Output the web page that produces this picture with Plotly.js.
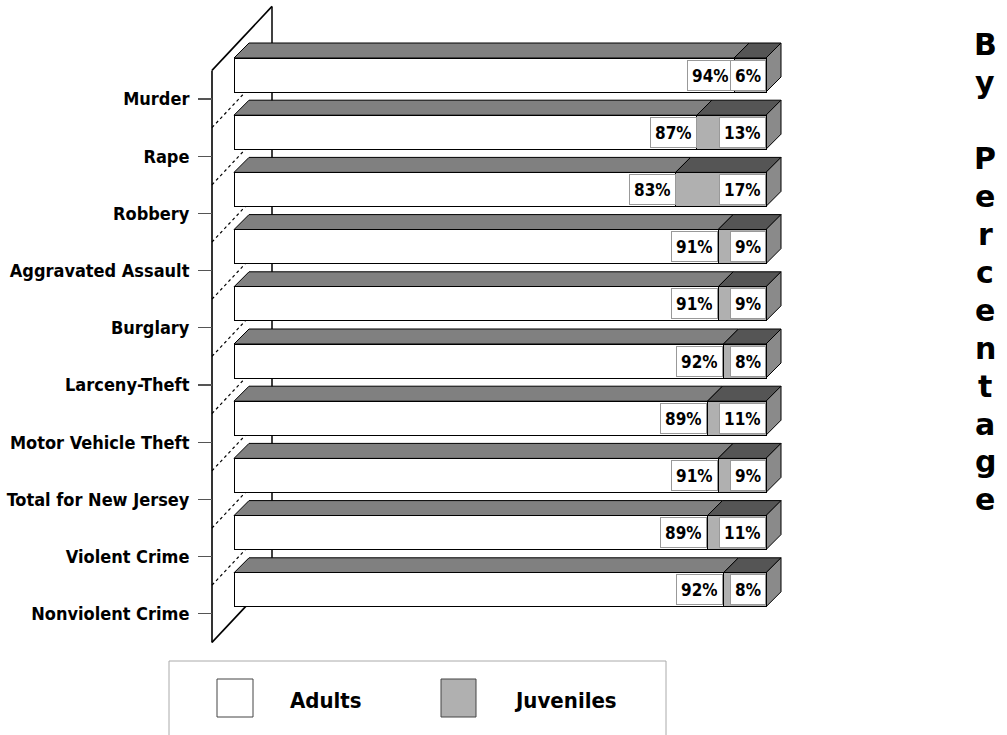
<!DOCTYPE html>
<html><head><meta charset="utf-8">
<script src="https://cdn.plot.ly/plotly-3.0.1.min.js"></script>
<style>html,body{margin:0;padding:0;background:#fff}#chart{width:1007px;height:735px}</style>
</head><body><div id="chart"></div>
<script>
// ---- data ----
const categories = ["Murder","Rape","Robbery","Aggravated Assault","Burglary","Larceny-Theft","Motor Vehicle Theft","Total for New Jersey","Violent Crime","Nonviolent Crime"];
const adults = [94,87,83,91,91,92,89,91,89,92];
const juveniles = [6,13,17,9,9,8,11,9,11,8];
const seriesNames = ["Adults","Juveniles"];
const sideTitle = "By Percentage";

// ---- geometry (pixels) ----
const W=1007, H=735;
const X0=234, X1=766;          // pixel of 0% and 100%
const ROW0=99, ROWH=57.2;      // pixel of first category tick, spacing
const ux=(X1-X0)/100;
const n=categories.length;
const idx=categories.map((_,i)=>i);
const barShift=24/ROWH, barW=34/ROWH;
const dX=15/ux, dY=15/ROWH;               // bar depth
const wallX=-22/ux, wallDX=60/ux, wallDY=64/ROWH;
const yb=idx.map(i=>i-barShift);
const FN="'DejaVu Sans Condensed','Liberation Sans Narrow',sans-serif";
const C_TOP='#808080', C_TOPJ='#555555', C_SIDE='#8a8a8a', C_JUV='#b0b0b0';

const shapes=[];
const L=(x0,y0,x1,y1,line)=>shapes.push({type:'line',xref:'x',yref:'y',x0,y0,x1,y1,line,layer:'below'});
// back wall edge
L(wallX+wallDX,-0.5-wallDY,wallX+wallDX,n-0.5-wallDY,{color:'#000',width:1.5});
// dotted grid on floor between categories
for(let k=0;k<n-1;k++) L(wallX,k+0.5,wallX+wallDX,k+0.5-wallDY,{color:'#000',width:1.2,dash:'dot'});
// wall outline
L(wallX,-0.5,wallX+wallDX,-0.5-wallDY,{color:'#000',width:1.6});
L(wallX,n-0.5,wallX+wallDX,n-0.5-wallDY,{color:'#000',width:1.6});
L(wallX,-0.5,wallX,n-0.5,{color:'#000',width:1.6});
// 3D faces of bars
const P=(pts,fill)=>shapes.push({type:'path',xref:'x',yref:'y',layer:'below',fillcolor:fill,line:{color:'#000',width:1},
  path:'M'+pts.map(p=>p[0]+','+p[1]).join(' L')+' Z'});
idx.forEach(i=>{
  const top=yb[i]-barW/2, bot=yb[i]+barW/2, a=adults[i], t=adults[i]+juveniles[i];
  P([[0,top],[dX,top-dY],[a+dX,top-dY],[a,top]],C_TOP);
  P([[a,top],[a+dX,top-dY],[t+dX,top-dY],[t,top]],C_TOPJ);
  P([[t,top],[t+dX,top-dY],[t+dX,bot-dY],[t,bot]],C_SIDE);
});

// legend (paper coords)
const px=v=>v/W, py=v=>1-v/H;
shapes.push({type:'rect',xref:'paper',yref:'paper',x0:px(169),x1:px(666),y0:py(661),y1:py(760),line:{color:'#aaa',width:1},fillcolor:'rgba(0,0,0,0)'});
shapes.push({type:'rect',xref:'paper',yref:'paper',x0:px(217),x1:px(253),y0:py(679),y1:py(717),line:{color:'#444',width:1},fillcolor:'#fff'});
shapes.push({type:'rect',xref:'paper',yref:'paper',x0:px(441),x1:px(476),y0:py(679),y1:py(717),line:{color:'#444',width:1},fillcolor:C_JUV});

const annotations=[];
idx.forEach(i=>{
  const lab=(x,txt)=>annotations.push({x,y:yb[i],xref:'x',yref:'y',xanchor:'right',yanchor:'middle',text:txt,showarrow:false,
    bgcolor:'#fff',bordercolor:'#999',borderwidth:1,borderpad:4,height:21,font:{family:FN,size:17,color:'#000',weight:700}});
  lab(adults[i],adults[i]+'%');
  lab(adults[i]+juveniles[i],juveniles[i]+'%');
});
annotations.push({xref:'paper',yref:'paper',x:px(288),y:py(700),xanchor:'left',yanchor:'middle',text:seriesNames[0],showarrow:false,font:{family:FN,size:22,weight:700,color:'#000'}});
annotations.push({xref:'paper',yref:'paper',x:px(512),y:py(700),xanchor:'left',yanchor:'middle',text:seriesNames[1],showarrow:false,font:{family:FN,size:22,weight:700,color:'#000'}});
// vertical side title
[...sideTitle].forEach((ch,k)=>{
  if(ch===' ') return;
  annotations.push({xref:'paper',yref:'paper',x:px(985),y:py(45+37.9*k),xanchor:'center',yanchor:'middle',text:ch,showarrow:false,
    font:{family:"'DejaVu Sans',sans-serif",size:30,weight:700,color:'#000'}});
});

const traces=[
 {type:'bar',orientation:'h',name:seriesNames[0],y:yb,x:adults,width:barW,marker:{color:'#fff',line:{color:'#000',width:1}},hoverinfo:'skip',showlegend:false},
 {type:'bar',orientation:'h',name:seriesNames[1],y:yb,x:juveniles,width:barW,marker:{color:C_JUV,line:{color:'#000',width:1}},hoverinfo:'skip',showlegend:false}
];
const layout={width:W,height:H,margin:{l:0,r:0,t:0,b:0},paper_bgcolor:'#fff',plot_bgcolor:'#fff',barmode:'stack',showlegend:false,
  xaxis:{range:[-X0/ux,(W-X0)/ux],visible:false,fixedrange:true},
  yaxis:{range:[(H-ROW0)/ROWH,-ROW0/ROWH],anchor:'free',position:212/W,tickvals:idx,ticktext:categories,ticks:'outside',ticklen:14,tickwidth:1.2,tickcolor:'#555',
    showline:false,showgrid:false,zeroline:false,automargin:false,ticklabelstandoff:5,tickfont:{family:FN,size:18,weight:700,color:'#000'}},
  shapes,annotations};
Plotly.newPlot('chart',traces,layout,{displayModeBar:false,staticPlot:true});
</script></body></html>
